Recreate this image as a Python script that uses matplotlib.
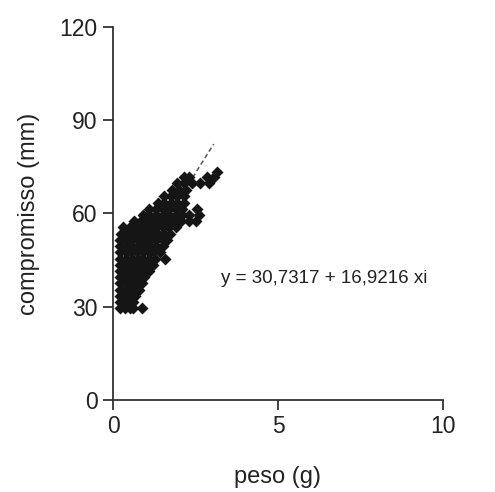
import matplotlib
matplotlib.use("Agg")
import matplotlib.pyplot as plt

plt.rcParams['font.family'] = ['Liberation Sans', 'DejaVu Sans']

# (compromisso, list of peso values)
rows = [
    (29.5, [0.22, 0.36, 0.5, 0.62, 0.89]),
    (31.5, [0.2, 0.34, 0.48, 0.62]),
    (33.5, [0.22, 0.38, 0.52, 0.68]),
    (35.5, [0.2, 0.35, 0.5, 0.65, 0.78]),
    (37.5, [0.22, 0.38, 0.55, 0.7, 0.88]),
    (39.5, [0.2, 0.35, 0.52, 0.68, 0.85, 0.95]),
    (41.5, [0.22, 0.38, 0.55, 0.72, 0.9, 1.08]),
    (43.5, [0.2, 0.36, 0.52, 0.7, 0.88, 1.05, 1.2]),
    (45.5, [0.22, 0.4, 0.58, 0.75, 0.92, 1.1, 1.28, 1.58]),
    (47.5, [0.2, 0.38, 0.55, 0.72, 0.9, 1.08, 1.25, 1.42]),
    (49.5, [0.22, 0.4, 0.58, 0.76, 0.95, 1.12, 1.3, 1.5]),
    (51.5, [0.2, 0.38, 0.56, 0.75, 0.92, 1.1, 1.3, 1.5, 1.65]),
    (53.5, [0.25, 0.42, 0.6, 0.8, 1.0, 1.18, 1.36, 1.55, 1.72]),
    (55.5, [0.3, 0.5, 0.7, 0.9, 1.1, 1.3, 1.5, 1.7, 1.9]),
    (57.5, [0.65, 0.85, 1.05, 1.25, 1.45, 1.65, 1.85, 2.05, 2.3, 2.5]),
    (59.5, [0.92, 1.1, 1.3, 1.5, 1.7, 1.9, 2.1, 2.3, 2.6]),
    (61.5, [1.1, 1.3, 1.5, 1.7, 1.9, 2.1, 2.55]),
    (63.5, [1.35, 1.55, 1.75, 1.95, 2.15]),
    (65.5, [1.55, 1.75, 1.95, 2.15]),
    (67.5, [1.8, 2.0, 2.2]),
    (69.8, [1.95, 2.15, 2.4, 2.65, 2.9]),
    (71.8, [2.15, 2.3, 2.85, 3.05]),
    (73.2, [3.15]),
]
peso = [x for y, xs in rows for x in xs]
compromisso = [y for y, xs in rows for x in xs]

# fitted line y = 30.7317 + 16.9216 x
intercept = 30.7317
slope = 16.9216
fit_x = [0.2, 3.05]
fit_y = [intercept + slope * x for x in fit_x]

xticks = [0, 5, 10]
yticks = [0, 30, 60, 90, 120]

fig = plt.figure(figsize=(4.95, 4.92), dpi=100)
ax = fig.add_axes([113 / 495, 92 / 492, 330 / 495, 373 / 492])

ax.plot(fit_x, fit_y, color='#555555', lw=1.1, ls=(0, (3, 2)), zorder=1)
ax.plot(peso, compromisso, 'D', color='#151515', ms=6.5, mec='none', zorder=2)

ax.set_xlim(0, 10)
ax.set_ylim(0, 120)
ax.set_xticks(xticks)
ax.set_yticks(yticks)
for s in ['top', 'right']:
    ax.spines[s].set_visible(False)
for s in ['left', 'bottom']:
    ax.spines[s].set_linewidth(1.3)
    ax.spines[s].set_color('#333333')
ax.tick_params(direction='out', length=7, width=1.3, color='#333333',
               labelsize=16.5, labelcolor='#222222', pad=4)

ax.set_xlabel('peso (g)', fontsize=17, color='#222222', labelpad=20)
ax.set_ylabel('compromisso (mm)', fontsize=17, color='#222222', labelpad=14)

ax.text(3.27, 37.6, 'y = 30,7317 + 16,9216 xi', fontsize=13.5,
        color='#222222', va='baseline', ha='left')

fig.savefig('out.png', dpi=100)
